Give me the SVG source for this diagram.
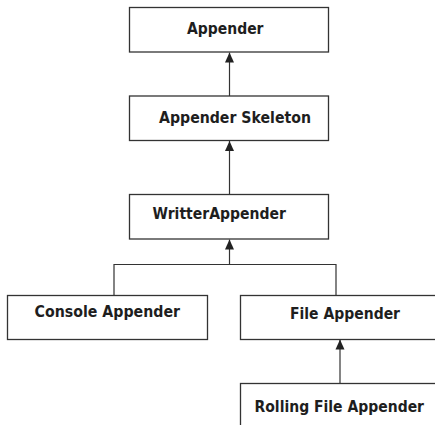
<svg xmlns="http://www.w3.org/2000/svg" width="435" height="425" viewBox="0 0 435 425">
<style>
.box{fill:#fff;stroke:#333;stroke-width:1.3}
.lbl{font-family:"DejaVu Sans",Verdana,sans-serif;font-weight:bold;font-size:15.5px;fill:#1e1e1e}
.conn{fill:none;stroke:#333;stroke-width:1.2}
</style>
<defs>
<marker id="arr" markerUnits="userSpaceOnUse" markerWidth="10" markerHeight="10" viewBox="0 0 10 10" refX="10" refY="5" orient="auto">
<path d="M0,0.5 L10,5 L0,9.5 Z" fill="#222"/>
</marker>
</defs>
<rect width="435" height="425" fill="#fff"/>
<g id="connectors">
<path class="conn" d="M229.5 96 V52.5" marker-end="url(#arr)"/>
<path class="conn" d="M229.5 194 V141" marker-end="url(#arr)"/>
<path class="conn" d="M114 295 V264.5 H336 V295"/>
<path class="conn" d="M229.5 264.5 V239.5" marker-end="url(#arr)"/>
<path class="conn" d="M340 383 V339.5" marker-end="url(#arr)"/>
</g>
<g id="appender">
<rect class="box" x="129.5" y="7.5" width="199" height="44.5"/>
<text class="lbl" x="187" y="34" textLength="76.5" lengthAdjust="spacingAndGlyphs">Appender</text>
</g>
<g id="appender-skeleton">
<rect class="box" x="129.5" y="96" width="199" height="44.5"/>
<text class="lbl" x="159" y="123.3" textLength="152" lengthAdjust="spacingAndGlyphs">Appender Skeleton</text>
</g>
<g id="writter-appender">
<rect class="box" x="129.5" y="194.5" width="199" height="44.5"/>
<text class="lbl" x="152.5" y="219.3" textLength="133.5" lengthAdjust="spacingAndGlyphs">WritterAppender</text>
</g>
<g id="console-appender">
<rect class="box" x="7.5" y="295.5" width="200" height="44"/>
<text class="lbl" x="34.5" y="316.7" textLength="145.5" lengthAdjust="spacingAndGlyphs">Console Appender</text>
</g>
<g id="file-appender">
<rect class="box" x="240.5" y="295.5" width="220" height="44"/>
<text class="lbl" x="290" y="318.7" textLength="110" lengthAdjust="spacingAndGlyphs">File Appender</text>
</g>
<g id="rolling-file-appender">
<rect class="box" x="240.5" y="383.5" width="220" height="60"/>
<text class="lbl" x="254.5" y="411.7" textLength="169.5" lengthAdjust="spacingAndGlyphs">Rolling File Appender</text>
</g>
</svg>
